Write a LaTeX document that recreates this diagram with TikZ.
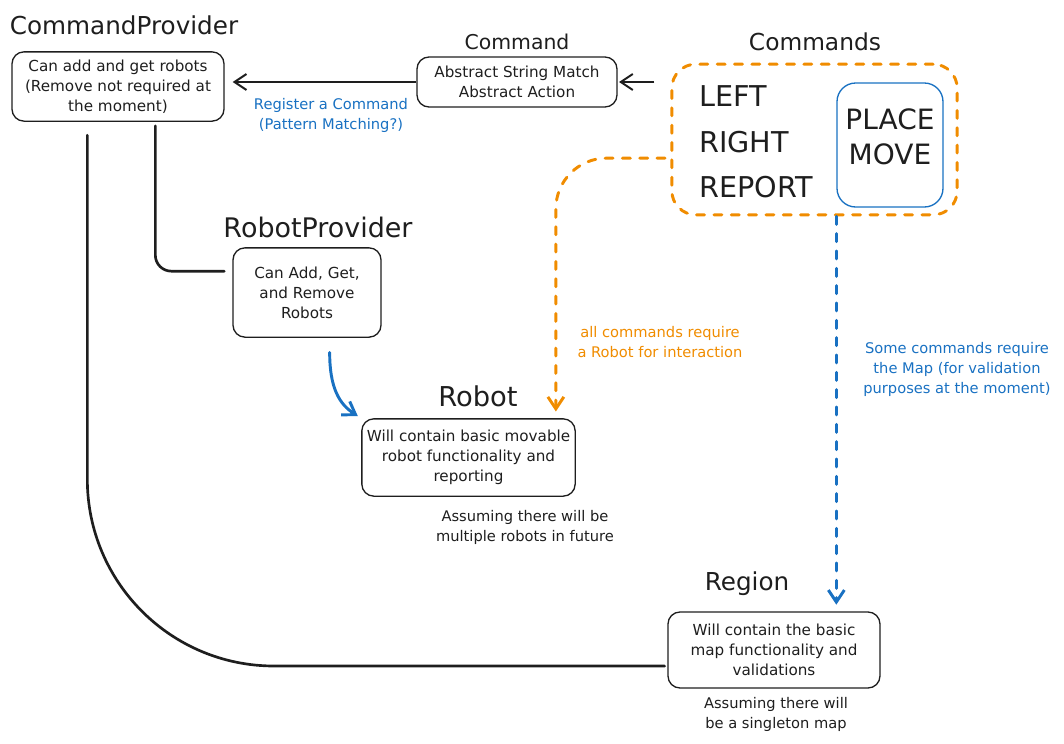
\documentclass[tikz,border=0pt]{standalone}
\usepackage{fontspec}
\setmainfont{DejaVu Sans}
\usetikzlibrary{arrows.meta}
\definecolor{ink}{HTML}{1E1E1E}
\definecolor{amber}{HTML}{F08C00}
\definecolor{sky}{HTML}{1971C2}
\begin{document}
\begin{tikzpicture}[x=0.75pt,y=-0.75pt,
  box node/.style={rectangle,draw=ink,line width=1pt,rounded corners=9pt,inner sep=2pt,align=center,text=ink,font=\fontsize{11.4}{15}\selectfont},
  title node/.style={text=ink,font=\fontsize{#1}{20}\selectfont},
  note node/.style={align=center,font=\fontsize{11}{15}\selectfont},
  cmd node/.style={anchor=west,inner sep=0pt,text=ink,font=\fontsize{21.5}{24}\selectfont},
  tip/.style={-{Straight Barb[length=9pt,width=12pt]}},
  link/.style={draw=ink,line width=2pt,line cap=round},
  dashline/.style={line width=2.2pt,line cap=round,dash pattern=on 6pt off 7pt}]%
  \useasboundingbox (0,0) rectangle (1064,743);
  \foreach \n/\p/\s/\t in {cpt/{124,25}/18.5/CommandProvider,cmdt/{517,42}/15.3/Command,cmdst/{815,42}/17.5/Commands,
    rpt/{318,227}/20.2/RobotProvider,robott/{478,396}/20.5/Robot,regiont/{747,584}/18.5/Region}
  \node[title node=\s] (\n) at (\p) {\t};

  \node[box node,minimum width=159pt,minimum height=52pt] (cp) at (118,86.5) {Can add and get robots\\(Remove not required at\\the moment)};
  \node[box node,minimum width=150pt,minimum height=37.5pt] (cmd) at (517,82) {Abstract String Match\\Abstract Action};
  \node[box node,minimum width=111pt,minimum height=67pt] (rp) at (307,292.5) {Can Add, Get,\\and Remove\\Robots};
  \node[box node,minimum width=160pt,minimum height=58pt] (robot) at (468.5,457.5) {Will contain basic movable\\robot functionality and\\reporting};
  \node[box node,minimum width=159pt,minimum height=57pt] (region) at (774,650) {Will contain the basic\\map functionality and\\validations};

  \node[draw=amber,dashline,rounded corners=18pt,minimum width=214pt,minimum height=113pt] (cmds) at (814.5,139.5) {};
  \node[box node,draw=sky,rounded corners=14pt,minimum width=79.5pt,minimum height=93pt,text depth=13pt,font=\fontsize{21}{26}\selectfont] (pm) at (890,145) {PLACE\\MOVE};
  \foreach \c[count=\i] in {LEFT,RIGHT,REPORT}
  \node[cmd node] (c\i) at (699,51+45.5*\i) {\c};

  \draw[ink,line width=1.5pt,tip,shorten >=6pt] (cmd.west) -- (cmd.west -| cp.east);
  \draw[ink,line width=1.5pt,tip,shorten <=12pt,shorten >=1pt] (cmds.west |- cmd.east) -- (cmd.east);
  \draw[amber,dashline,tip,rounded corners=38pt,shorten <=4pt,shorten >=5pt] ([yshift=-14pt]cmds.west) -| ([xshift=-15pt]robot.north east);
  \draw[sky,dashline,tip,shorten >=5pt] (pm.south west |- cmds.south) -- (pm.south west |- region.north);
  \draw[sky,line width=2.2pt,line cap=round,tip,shorten <=11pt,shorten >=3pt] ([xshift=17pt]rp.south) .. controls +(0,50) and +(-22,-14) .. (robot.north west);
  \draw[link,rounded corners=12pt,shorten <=3pt,shorten >=6pt] ([xshift=28pt]cp.south) |- ([yshift=16pt]rp.west);
  \draw[link,rounded corners=140pt,shorten <=10pt,shorten >=2pt] ([xshift=-23pt]cp.south) |- ([yshift=-12pt]region.west);

  \node[note node,text=sky] (reglab) at (331,115) {Register a Command\\(Pattern Matching?)};
  \node[note node,text=amber] (cmdlab) at (660,342) {all commands require\\a Robot for interaction};
  \node[note node,text=sky] (maplab) at (957,369) {Some commands require\\the Map (for validation\\purposes at the moment)};
  \node[note node,text=ink] (robotnote) at (525,527) {Assuming there will be\\multiple robots in future};
  \node[note node,text=ink] (regionnote) at (776,714) {Assuming there will\\be a singleton map};
\end{tikzpicture}
\end{document}
